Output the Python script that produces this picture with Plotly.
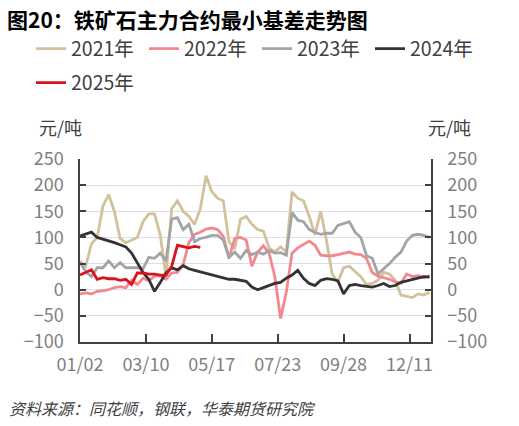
import plotly.graph_objects as go

# trading-day index of each sample (the x axis is a category-like day count)
day = list(range(0, 245, 4))
tick_days = [0, 46, 92, 138, 184, 230]
tick_labels = ["01/02", "03/10", "05/17", "07/23", "09/28", "12/11"]

y2021 = [55, 45, 88, 100, 160, 182, 150, 98, 90, 95,
         100, 130, 145, 145, 105, 25, 155, 170, 150, 140,
         125, 155, 218, 188, 175, 170, 92, 78, 135, 140,
         125, 115, 112, 80, 72, 82, 72, 187, 175, 170,
         140, 105, 150, 95, 30, 15, 42, 45, 35, 25,
         10, 12, 18, 33, 30, 18, -10, -12, -15, -8,
         -10, -5]
y2022 = [-8, -6, -8, -3, -2, 0, 4, 6, 4, 18,
         10, 22, 17, 26, 27, 20, 32, 33, 48, 90,
         106, 110, 116, 118, 115, 102, 60, 98, 100, 95,
         45, 72, 84, 70, 25, -55, -5, 70, 80, 87,
         93, 85, 66, 65, 65, 67, 70, 72, 68, 67,
         60, 33, 26, 23, 20, 15, 12, 30, 25, 27,
         23, 27]
y2023 = [52, 35, 25, 42, 42, 55, 42, 52, 42, 42,
         42, 40, 62, 60, 70, 55, 135, 138, 115, 125,
         92, 98, 100, 104, 104, 95, 62, 72, 60, 75,
         67, 72, 68, 75, 70, 71, 66, 148, 133, 130,
         115, 110, 106, 108, 108, 123, 127, 130, 110, 100,
         65, 60, 30, 40, 50, 62, 72, 93, 104, 106,
         104, 100]
y2024 = [103, 106, 110, 100, 97, 94, 90, 86, 82, 70,
         52, 33, 20, -3, 14, 32, 42, 38, 46, 40,
         37, 34, 32, 28, 25, 22, 20, 20, 18, 16,
         5, 0, 4, 8, 12, 14, 22, 28, 37, 22,
         12, 8, 18, 21, 20, 17, -8, 8, 10, 8,
         6, 5, 8, 12, 6, 8, 14, 17, 20, 22,
         25, 24]
y2025 = [28, 33, 38, 20, 23, 21, 21, 18, 20, 10,
         32, 32, 30, 30, 28, 28, 45, 85, 82, 80,
         83, 81]

names = ["2021年", "2022年", "2023年", "2024年", "2025年"]
values = [y2021, y2022, y2023, y2024, y2025]
colours = ["#d3c19c", "#f5878f", "#a2a4a7", "#333333", "#d7141f"]

W, H = 519, 426

# legend entry positions in window pixels (left of swatch, row centre)
legend_pos = [(39, 49), (152, 49), (265, 49), (378, 49), (39, 83)]
SWATCH_PAD = 8

FONT = "Noto Sans CJK SC"
AXIS_COL = "#404040"
TICK_COL = "#7f7f7f"
GRID_COL = "#d9dee8"

# plot area in window pixels
PX_L, PX_R, PX_T, PX_B = 80, 431, 159, 341.7
PW, PH = PX_R - PX_L, PX_B - PX_T


def paper_x(px):
    return (px - PX_L) / PW


def paper_y(py):
    return (PX_B - py) / PH


fig = go.Figure()
legend_layout = {}
for i, (name, vals, colour) in enumerate(zip(names, values, colours)):
    lg = "legend" if i == 0 else f"legend{i + 1}"
    fig.add_trace(
        go.Scatter(
            x=day[: len(vals)],
            y=vals,
            mode="lines",
            name=name,
            line=dict(color=colour, width=2.8),
            legend=lg,
            # last one goes on the right-hand axis so that axis gets drawn
            yaxis="y2" if i == len(names) - 1 else "y",
        )
    )
    px, py = legend_pos[i]
    legend_layout[lg] = dict(
        orientation="h",
        xref="container",
        yref="container",
        x=(px - SWATCH_PAD) / W,
        xanchor="left",
        y=1 - py / H,
        yanchor="middle",
        font=dict(family=FONT, size=19.5, color="#404040"),
        bgcolor="rgba(0,0,0,0)",
    )

ycommon = dict(
    range=[-100, 250],
    tickvals=[-100, -50, 0, 50, 100, 150, 200, 250],
    showline=True,
    linecolor=AXIS_COL,
    linewidth=1.5,
    ticks="inside",
    ticklen=6,
    tickwidth=1.5,
    tickcolor=AXIS_COL,
    tickfont=dict(family=FONT, size=18, color=TICK_COL),
    ticklabelstandoff=11,
    zeroline=False,
)

fig.update_layout(
    width=W,
    height=H,
    margin=dict(l=PX_L, r=W - PX_R, t=PX_T, b=H - PX_B, autoexpand=False),
    paper_bgcolor="white",
    plot_bgcolor="white",
    font=dict(family=FONT, size=18, color="#404040"),
    title=dict(
        text="图20：铁矿石主力合约最小基差走势图",
        x=7 / W,
        xanchor="left",
        y=1 - 21 / H,
        yanchor="middle",
        font=dict(family=FONT, size=21, color="black", weight="bold"),
    ),
    xaxis=dict(
        range=[0, 245],
        tickvals=tick_days,
        ticktext=tick_labels,
        showline=True,
        linecolor=AXIS_COL,
        linewidth=1.5,
        ticks="inside",
        ticklen=8,
        tickwidth=1.5,
        tickcolor=AXIS_COL,
        showgrid=False,
        zeroline=False,
        tickfont=dict(family=FONT, size=18, color=TICK_COL),
        ticklabelstandoff=6,
    ),
    yaxis=dict(ycommon, showgrid=True, gridcolor=GRID_COL, gridwidth=1),
    yaxis2=dict(ycommon, overlaying="y", side="right", showgrid=False),
    showlegend=True,
    **legend_layout,
)

fig.add_annotation(
    text="元/吨", xref="paper", yref="paper",
    x=paper_x(37), y=paper_y(127),
    xanchor="left", yanchor="middle", showarrow=False,
    font=dict(family=FONT, size=18, color="#404040"),
)
fig.add_annotation(
    text="元/吨", xref="paper", yref="paper",
    x=paper_x(473), y=paper_y(127),
    xanchor="right", yanchor="middle", showarrow=False,
    font=dict(family=FONT, size=18, color="#404040"),
)
fig.add_annotation(
    text="资料来源：同花顺，钢联，华泰期货研究院", xref="paper", yref="paper",
    x=paper_x(7), y=paper_y(408),
    xanchor="left", yanchor="middle", showarrow=False,
    font=dict(family=FONT, size=16, color="#404040", style="italic"),
)

# drop the default 8px body margin so the figure fills the window exactly
fig.write_html(
    "out.html",
    config={"displayModeBar": False},
    post_script="document.body.style.margin = '0';",
)
